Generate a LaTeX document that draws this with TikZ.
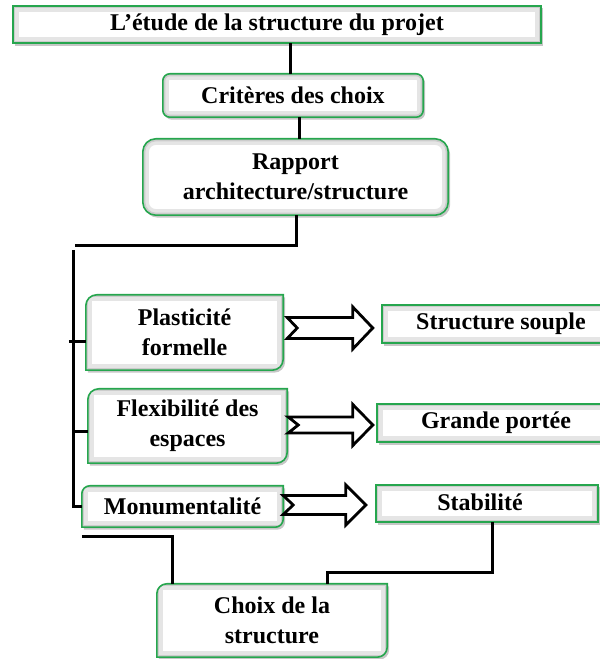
\documentclass[tikz,border=0pt]{standalone}
\usepackage{fontspec}
\setmainfont{Liberation Serif}
\usetikzlibrary{shadows,backgrounds,calc}
\definecolor{bxgreen}{RGB}{38,166,78}
\tikzset{
  x=1pt,y=1pt,
  lbl/.style={font=\bfseries\fontsize{24}{30}\selectfont, align=center, inner sep=0pt, text=black},
  boxfill/.style={fill=white, draw=bxgreen, line width=1.6pt,
    drop shadow={shadow xshift=2pt, shadow yshift=-2.5pt, opacity=0.45},
    path picture={
      \draw[black!10, line width=12pt] (path picture bounding box.south west) rectangle (path picture bounding box.north east);
      \draw[black!20, line width=5pt] (path picture bounding box.south west) rectangle (path picture bounding box.north east);}},
  conn/.style={line width=3pt, black},
  hollow/.style={draw=black, fill=white, line width=2.8pt, line join=miter},
}
\newcommand\diagshape[2]{%
  \path[boxfill] (#1.south west) -- ([yshift=-#2]#1.north west)
    arc[start angle=180, end angle=90, radius=#2] -- (#1.north east)
    -- ([yshift=#2]#1.south east) arc[start angle=0, end angle=-90, radius=#2] -- cycle;}
\newcommand\hollowarrow[7]{%
  \draw[hollow] let \p1=(#1.east), \p2=(#2.west), \n1={\x1+#6}, \n2={\x2-#7} in
    (\n1,#3+#4) -- (\n2-20,#3+#4) -- (\n2-20,#3+#5) -- (\n2,#3) -- (\n2-20,#3-#5)
    -- (\n2-20,#3-#4) -- (\n1,#3-#4) -- (\n1+10,#3) -- cycle;}
\begin{document}
\begin{tikzpicture}
\useasboundingbox (0,0) rectangle (600,659);
% nodes
\node[lbl, minimum width=528pt, minimum height=37pt] (t) at (277,634.5) {L’étude de la structure du projet};
\node[lbl, minimum width=260pt, minimum height=43pt] (c) at (293,563.5) {Critères des choix};
\node[lbl, minimum width=305pt, minimum height=76pt] (r) at (295.5,482) {Rapport\\architecture/structure};
\node[lbl, minimum width=197pt, minimum height=75pt] (p) at (184.5,326.5) {Plasticité\\formelle};
\node[lbl, minimum width=199pt, minimum height=74pt] (f) at (187.5,233) {Flexibilité des\\espaces};
\node[lbl, minimum width=201pt, minimum height=41pt] (m) at (182.5,152.5) {Monumentalité};
\node[lbl, minimum width=238pt, minimum height=38pt] (ss) at (501,335) {Structure souple};
\node[lbl, minimum width=238pt, minimum height=38pt] (gp) at (496,236) {Grande portée};
\node[minimum width=222pt, minimum height=37pt, inner sep=0pt] (st) at (487,155.5) {};
\node[lbl] (stt) at ($(st.center)+(-7,1)$) {Stabilité};
\node[lbl, minimum width=230pt, minimum height=73pt] (ch) at (272,38.5) {Choix de la\\structure};
% box backgrounds
\begin{scope}[on background layer]
  \path[boxfill] (t.south west) rectangle (t.north east);
  \path[boxfill, rounded corners=7pt] (c.south west) rectangle (c.north east);
  \path[boxfill, rounded corners=13pt] (r.south west) rectangle (r.north east);
  \diagshape{p}{11pt}
  \diagshape{f}{11pt}
  \diagshape{m}{8pt}
  \diagshape{ch}{10pt}
  \path[boxfill] (ss.south west) rectangle (ss.north east);
  \path[boxfill] (gp.south west) rectangle (gp.north east);
  \path[boxfill] (st.south west) rectangle (st.north east);
\end{scope}
% connectors
\draw[conn] ($(t.south)+(13,0)$) -- ($(c.north)+(-3,0)$);
\draw[conn] ($(c.south)+(6,0)$) -- ($(r.north)+(3.5,0)$);
\coordinate (j1) at (75,413);
\coordinate (j2) at (73,409);
\draw[conn] ($(r.south)+(0.5,0)$) |- (j1);
\draw[conn] (j2) |- (m.west);
\draw[conn] ($(p.west)+(-17,-9.5)$) -- ($(p.west)+(0,-9.5)$);
\draw[conn] ($(f.west)+(-15,-6)$) -- ($(f.west)+(0,-6)$);
\draw[conn] ($(m.south west)+(0,-9)$) -| ($(ch.north west)+(16,0)$);
\draw[conn] ($(st.south)+(5,0)$) -- ++(0,-50) -| ($(ch.north west)+(171,0)$);
% hollow arrows
\hollowarrow{p}{ss}{331}{10.5}{21}{4}{9}
\hollowarrow{f}{gp}{234}{8}{20.5}{1}{4}
\hollowarrow{m}{st}{154}{9.5}{20}{0}{10}
\end{tikzpicture}
\end{document}
